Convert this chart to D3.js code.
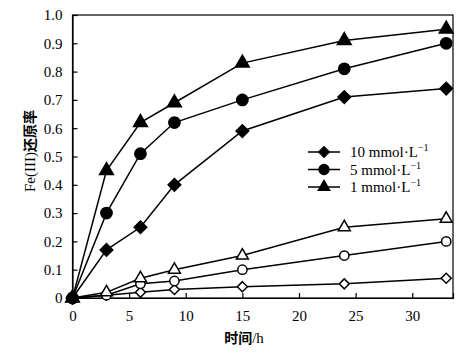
<!DOCTYPE html>
<html><head><meta charset="utf-8">
<script src="https://cdn.jsdelivr.net/npm/d3@7"></script>
<style>body{margin:0;background:#fff}</style>
</head><body>
<script>
const times = [0, 3, 6, 9, 15, 24, 33];
const filled10 = [0, 0.17, 0.25, 0.40, 0.59, 0.71, 0.74];
const filled5  = [0, 0.30, 0.51, 0.62, 0.70, 0.81, 0.90];
const filled1  = [0, 0.45, 0.62, 0.69, 0.83, 0.91, 0.95];
const open10   = [0, 0.01, 0.02, 0.03, 0.04, 0.05, 0.07];
const open5    = [0, 0.01, 0.05, 0.06, 0.10, 0.15, 0.20];
const open1    = [0, 0.02, 0.07, 0.10, 0.15, 0.25, 0.28];
const xTicks = [0, 5, 10, 15, 20, 25, 30];
const yTicks = [0, 0.1, 0.2, 0.3, 0.4, 0.5, 0.6, 0.7, 0.8, 0.9, 1.0];
const legendLabels = ["10 mmol·L", "5 mmol·L", "1 mmol·L"];

const W = 473, H = 355;
const m = {l: 72.5, r: 20, t: 15, b: 57};
const svg = d3.select("body").append("svg").attr("width", W).attr("height", H);
const x = d3.scaleLinear().domain([0, 33.6]).range([m.l, W - m.r]);
const y = d3.scaleLinear().domain([0, 1]).range([H - m.b, m.t]);
const font = "'Liberation Serif','Times New Roman',serif";

svg.append("rect").attr("x", x(0)).attr("y", y(1)).attr("width", x(33.6) - x(0)).attr("height", y(0) - y(1))
  .attr("fill", "none").attr("stroke", "#000").attr("stroke-width", 1.2);

const xa = svg.append("g").attr("transform", `translate(0,${y(0)})`)
  .call(d3.axisBottom(x).tickValues(xTicks).tickSize(-5).tickPadding(12).tickFormat(d3.format("d")));
const ya = svg.append("g").attr("transform", `translate(${x(0)},0)`)
  .call(d3.axisLeft(y).tickValues(yTicks).tickSize(-5).tickPadding(10).tickFormat(d => d === 0 ? "0" : d3.format(".1f")(d)));
[xa, ya].forEach(a => {
  a.select(".domain").attr("stroke", "#000").attr("stroke-width", 1.2);
  a.selectAll(".tick line").attr("stroke", "#000").attr("stroke-width", 1.2);
  a.selectAll("text").attr("font-family", font).attr("font-size", 15).attr("fill", "#000");
});

function diamond(h) {
  return () => `M0,${-h}L${h},0L0,${h}L${-h},0Z`;
}
const symF = {
  tri: d3.symbol().type(d3.symbolTriangle).size(82),
  circ: d3.symbol().type(d3.symbolCircle).size(100),
  dia: diamond(6.3)
};
const symO = {
  tri: d3.symbol().type(d3.symbolTriangle).size(62),
  circ: d3.symbol().type(d3.symbolCircle).size(68),
  dia: diamond(5)
};
const series = [
  {v: open10, s: "dia", f: false},
  {v: open5, s: "circ", f: false},
  {v: open1, s: "tri", f: false},
  {v: filled10, s: "dia", f: true},
  {v: filled5, s: "circ", f: true},
  {v: filled1, s: "tri", f: true}
];
const line = d3.line().x((d, i) => x(times[i])).y(d => y(d));
series.forEach(se => {
  svg.append("path").attr("d", line(se.v)).attr("fill", "none").attr("stroke", "#000").attr("stroke-width", 1.5);
});
series.forEach(se => {
  svg.append("g").selectAll("path").data(se.v).join("path")
    .attr("transform", (d, i) => `translate(${x(times[i])},${y(d)})`)
    .attr("d", se.f ? symF[se.s] : symO[se.s])
    .attr("fill", se.f ? "#000" : "#fff")
    .attr("stroke", "#000").attr("stroke-width", 1.5);
});

// legend
const legSyms = ["dia", "circ", "tri"];
const lg = svg.append("g");
legendLabels.forEach((lab, i) => {
  const yy = 152 + i * 17.5;
  lg.append("line").attr("x1", 308).attr("x2", 340).attr("y1", yy).attr("y2", yy).attr("stroke", "#000").attr("stroke-width", 1.5);
  lg.append("path").attr("transform", `translate(324,${yy})`).attr("d", symF[legSyms[i]]).attr("fill", "#000");
  const t = lg.append("text").attr("x", 350).attr("y", yy + 5).attr("font-family", font).attr("font-size", 15).attr("fill", "#000");
  t.append("tspan").text(lab);
  t.append("tspan").attr("dy", -6).attr("font-size", 10).text("−1");
});

svg.append("text").attr("transform", `translate(35,${151}) rotate(-90)`)
  .attr("text-anchor", "middle").attr("font-size", 14).attr("fill", "#000")
  .each(function() {
    const t = d3.select(this);
    t.append("tspan").attr("font-family", font).attr("font-size", 15).text("Fe(III)");
    t.append("tspan").attr("font-family", "'Noto Sans CJK SC'").attr("font-weight", "bold").text("还原率");
  });
const xl = svg.append("text").attr("x", 244).attr("y", 343).attr("text-anchor", "middle").attr("fill", "#000");
xl.append("tspan").attr("font-family", "'Noto Sans CJK SC'").attr("font-weight", "bold").attr("font-size", 14).text("时间");
xl.append("tspan").attr("font-family", font).attr("font-size", 15).text("/h");
</script>
</body></html>
